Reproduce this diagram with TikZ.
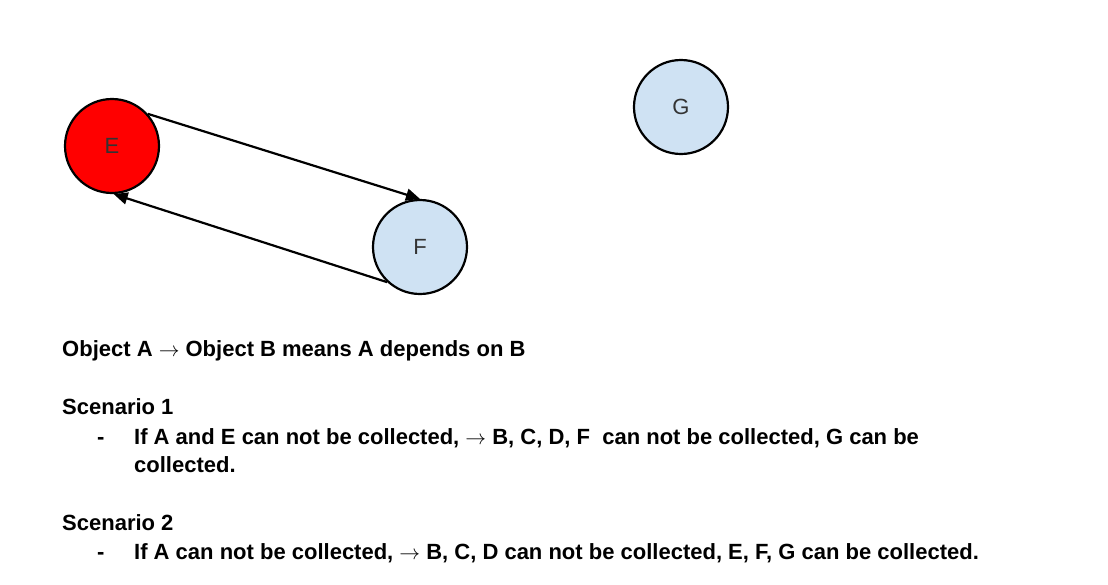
\documentclass[tikz,border=0pt]{standalone}
\usepackage{fontspec}
\setmainfont{Liberation Sans}
\usetikzlibrary{arrows.meta, positioning}
\definecolor{rootcolor}{rgb}{1.0, 0.0, 0.0}
\definecolor{freecolor}{HTML}{CFE2F3}
\definecolor{lettercolor}{rgb}{0.2, 0.2, 0.2}
\tikzset{object/.style={circle, draw=black, line width=2.2pt, minimum size=94pt, inner sep=0pt, font=\fontsize{22}{26}\selectfont, text=lettercolor}}
\tikzset{rootobj/.style={object, fill=rootcolor}}
\tikzset{freeobj/.style={object, fill=freecolor}}
\tikzset{line/.style={anchor=base west, inner sep=0pt, font=\fontsize{22}{26}\selectfont\bfseries}}
\tikzset{dep/.style={line width=2.2pt, -{Triangle[length=14pt,width=12pt]}}}

\begin{document}
\begin{tikzpicture}[x=1pt, y=-1pt]
	\useasboundingbox (0,0) rectangle (1108,584);
	
	%%% NODES %%%
	
	% OBJECTS
	\node[rootobj] at (112,146) (objE) {E};
	\node[freeobj] at (420,247) (objF) {F};
	\node[freeobj] at (681,107) (objG) {G};
	
	% LEGEND
	\node[line] at (62,356) (legend) {Object A $\rightarrow$ Object B means A depends on B};
	
	% SCENARIO 1
	\node[line] at (62,414) (scen1) {Scenario 1};
	\node[line] at (97,444) (dash1) {-};
	\node[line] at (134,444) (scen1a) {If A and E can not be collected, $\rightarrow$ B, C, D, F\ \ can not be collected, G can be};
	\node[line] at (134,472) (scen1b) {collected.};
	
	% SCENARIO 2
	\node[line] at (62,530) (scen2) {Scenario 2};
	\node[line] at (97,559) (dash2) {-};
	\node[line] at (134,559) (scen2a) {If A can not be collected, $\rightarrow$ B, C, D can not be collected, E, F, G can be collected.};
	
	%%% ARROWS %%%
	\draw[dep] (objE.42) -- (objF.90);
	\draw[dep] (objF.227) -- (objE.272);
	
\end{tikzpicture}
\end{document}
